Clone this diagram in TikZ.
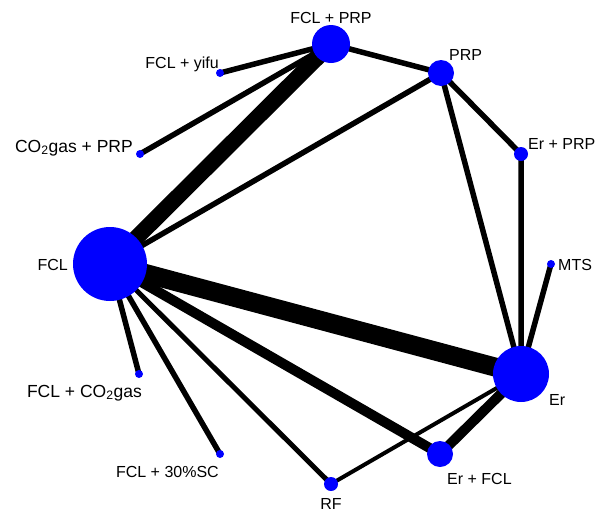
\documentclass[tikz,border=0pt]{standalone}
\usepackage{fontspec}
\setmainfont{Liberation Sans}
\usetikzlibrary{backgrounds}

\tikzset{trt/.style={circle,fill=blue,inner sep=0pt},
  lbl/.style={font=\fontsize{16}{19}\selectfont,inner sep=0pt},
  biglbl/.style={font=\fontsize{17.5}{21}\selectfont,inner sep=0pt}}

\begin{document}
\begin{tikzpicture}[x=1pt,y=-1pt]
        \useasboundingbox (0,0) rectangle (600,512);
        % treatments
        \node[trt,minimum size=74pt] (fcl) at (110,264) {};
        \node[trt,minimum size=38pt] (fclprp) at (331,44) {};
        \node[trt,minimum size=26pt] (prp) at (441,73) {};
        \node[trt,minimum size=14pt] (erprp) at (521,154) {};
        \node[trt,minimum size=8pt] (mts) at (551,264) {};
        \node[trt,minimum size=56pt] (er) at (521,374) {};
        \node[trt,minimum size=26pt] (erfcl) at (440,454) {};
        \node[trt,minimum size=14pt] (rf) at (331,484) {};
        \node[trt,minimum size=8pt] (fclsc) at (220,454) {};
        \node[trt,minimum size=8pt] (fclco) at (139,374) {};
        \node[trt,minimum size=8pt] (coprp) at (140,154) {};
        \node[trt,minimum size=8pt] (fclyifu) at (220,73) {};
        \begin{scope}[on background layer]
        \draw [line width=16pt] (fcl.center)--(fclprp.center);
        \draw [line width=19pt] (fcl.center)--(er.center);
        \draw [line width=10pt] (fcl.center)--(erfcl.center) (er.center)--(erfcl.center);
        \draw [line width=5.5pt] (fcl.center)--(prp.center) (fclprp.center)--(fclyifu.center)
            (fclprp.center)--(coprp.center) (fclprp.center)--(prp.center)
            (prp.center)--(erprp.center) (prp.center)--(er.center)
            (erprp.center)--(er.center) (mts.center)--(er.center)
            (fcl.center)--(fclsc.center) (fcl.center)--(fclco.center);
        \draw [line width=5pt] (fcl.center)--(rf.center);
        \draw [line width=4pt] (er.center)--(rf.center);
        \end{scope}
        % labels
        \node[lbl,anchor=base] (l0) at (331,23) {FCL + PRP};
        \node[lbl,anchor=base west] (l1) at (449,60) {PRP};
        \node[lbl,anchor=base west] (l2) at (528,149) {Er + PRP};
        \node[lbl,anchor=base west] (l3) at (558,270) {MTS};
        \node[lbl,anchor=base west] (l4) at (549,405) {Er};
        \node[lbl,anchor=base west] (l5) at (447,484) {Er + FCL};
        \node[lbl,anchor=base] (l6) at (331,509) {RF};
        \node[lbl,anchor=base east] (l7) at (219,477) {FCL + 30\%SC};
        \node[biglbl,anchor=base east] (l8) at (142,397) {FCL + CO\textsubscript{2}gas};
        \node[lbl,anchor=base east] (l9) at (68,270) {FCL};
        \node[biglbl,anchor=base east] (l10) at (133,152) {CO\textsubscript{2}gas + PRP};
        \node[lbl,anchor=base east] (l11) at (219,68) {FCL + yifu};
    \end{tikzpicture}
\end{document}
